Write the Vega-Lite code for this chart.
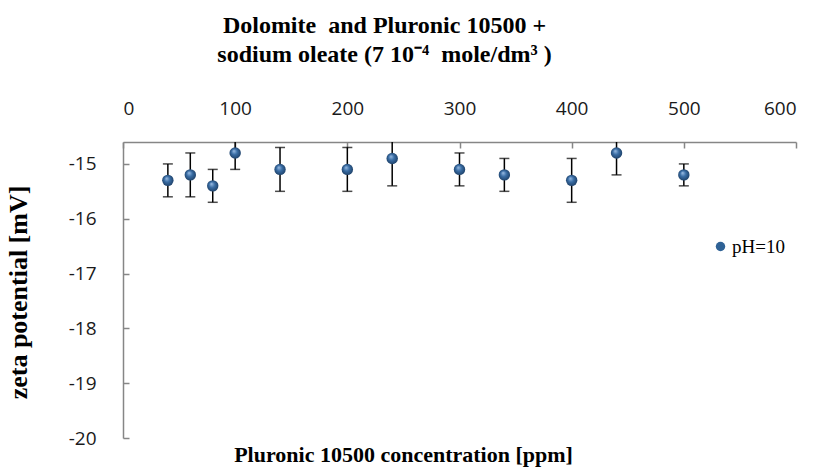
{
  "$schema": "https://vega.github.io/schema/vega-lite/v6.json",
  "autosize": "none",
  "width": 673,
  "height": 296,
  "padding": {"left": 123, "top": 142, "right": 22, "bottom": 35},
  "background": "white",
  "config": {
    "view": {"stroke": null},
    "axis": {
      "domainColor": "#868686", "domainWidth": 1.5,
      "tickColor": "#868686", "tickWidth": 1.5,
      "grid": false,
      "labelFont": "Open Sans", "labelFontSize": 19, "labelColor": "#1a1a1a",
      "titleFont": "Liberation Serif", "titleFontWeight": "bold", "titleColor": "black"
    }
  },
  "title": {
    "text": ["Dolomite \u00a0and Pluronic 10500 +", "sodium oleate (7 10⁻⁴ \u00a0mole/dm³ )"],
    "font": "Liberation Serif", "fontSize": 24, "fontWeight": "bold", "color": "black",
    "lineHeight": 29, "anchor": "middle", "dx": -75, "dy": 4, "offset": 36
  },
  "data": {
    "values": [
      {"c": 40, "z": -15.3, "lo": -15.6, "hi": -15.0},
      {"c": 60, "z": -15.2, "lo": -15.6, "hi": -14.8},
      {"c": 80, "z": -15.4, "lo": -15.7, "hi": -15.1},
      {"c": 100, "z": -14.8, "lo": -15.1, "hi": -14.5},
      {"c": 140, "z": -15.1, "lo": -15.5, "hi": -14.7},
      {"c": 200, "z": -15.1, "lo": -15.5, "hi": -14.7},
      {"c": 240, "z": -14.9, "lo": -15.4, "hi": -14.4},
      {"c": 300, "z": -15.1, "lo": -15.4, "hi": -14.8},
      {"c": 340, "z": -15.2, "lo": -15.5, "hi": -14.9},
      {"c": 400, "z": -15.3, "lo": -15.7, "hi": -14.9},
      {"c": 440, "z": -14.8, "lo": -15.2, "hi": -14.4},
      {"c": 500, "z": -15.2, "lo": -15.4, "hi": -15.0}
    ]
  },
  "encoding": {
    "x": {
      "field": "c", "type": "quantitative",
      "scale": {"domain": [0, 600], "nice": false, "zero": false},
      "axis": {
        "orient": "top", "values": [0, 100, 200, 300, 400, 500, 600],
        "tickSize": -6, "labelPadding": 30,
        "title": "Pluronic 10500 concentration [ppm]", "titleFontSize": 22,
        "titleX": 280, "titleY": 319, "titleBaseline": "alphabetic", "titleAnchor": "middle"
      }
    }
  },
  "layer": [
    {
      "mark": {"type": "rule", "color": "black", "strokeWidth": 1.5, "clip": true},
      "encoding": {
        "y": {
          "field": "lo", "type": "quantitative",
          "scale": {"domain": [-20, -14.6], "nice": false, "zero": false},
          "axis": {
            "values": [-20, -19, -18, -17, -16, -15],
            "labelExpr": "datum.value + ''",
            "tickSize": -6, "labelPadding": 33,
            "title": "zeta potential [mV]", "titleFontSize": 26,
            "titleX": -105, "titleY": 150, "titleAnchor": "middle", "titleAngle": -90, "titleBaseline": "middle"
          }
        },
        "y2": {"field": "hi"}
      }
    },
    {
      "mark": {"type": "tick", "orient": "horizontal", "color": "black", "size": 10, "thickness": 1.5, "clip": true},
      "encoding": {"y": {"field": "lo", "type": "quantitative"}}
    },
    {
      "mark": {"type": "tick", "orient": "horizontal", "color": "black", "size": 10, "thickness": 1.5, "clip": true},
      "encoding": {"y": {"field": "hi", "type": "quantitative"}}
    },
    {
      "mark": {
        "type": "point", "filled": true, "size": 130, "opacity": 1,
        "fill": {"gradient": "radial", "x1": 0.38, "y1": 0.32, "r1": 0, "x2": 0.5, "y2": 0.5, "r2": 0.55,
          "stops": [{"offset": 0, "color": "#9fc0e6"}, {"offset": 0.45, "color": "#3a6ea6"}, {"offset": 1, "color": "#1c3d63"}]}
      },
      "encoding": {
        "y": {"field": "z", "type": "quantitative"},
        "color": {
          "datum": "pH=10",
          "scale": {"range": ["#2f6296"]},
          "legend": {
            "title": null, "orient": "none", "legendX": 588, "legendY": 95,
            "symbolType": "circle", "symbolSize": 90,
            "labelFont": "Liberation Serif", "labelFontSize": 19, "labelColor": "black", "labelOffset": 2
          }
        }
      }
    }
  ]
}
